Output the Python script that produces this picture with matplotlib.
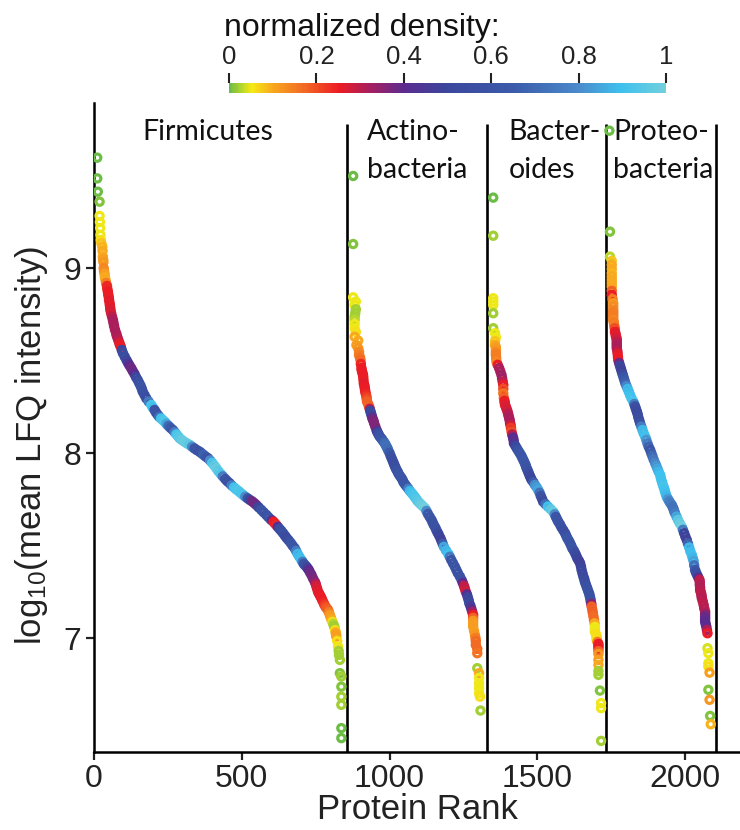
import matplotlib
matplotlib.use("Agg")
import matplotlib.pyplot as plt
from matplotlib.colors import LinearSegmentedColormap, Normalize
from matplotlib.cm import ScalarMappable

plt.rcParams["font.family"] = ["Liberation Sans", "DejaVu Sans"]
plt.rcParams["mathtext.fontset"] = "custom"
plt.rcParams["mathtext.rm"] = "Liberation Sans"
plt.rcParams["mathtext.it"] = "Liberation Sans:italic"

# Firmicutes: protein rank, log10 mean LFQ intensity, normalized density
firm_rank = [11, 11, 13, 19, 19, 20, 21, 22, 23, 25, 28, 29, 30, 31, 32, 33, 34, 36, 37, 39, 41,
             44, 45, 47, 48, 50, 51, 53, 54, 55, 56, 58, 61, 64, 66, 68, 71, 75, 77, 80, 83, 86, 88, 91, 94,
             98, 104, 110, 115, 120, 126, 131, 137, 142, 148, 153, 158, 162, 165, 171, 177, 185, 194, 199, 205,
             210, 216, 221, 227, 233, 239, 245, 252, 259, 267, 273, 279, 285, 290, 298, 307, 315, 324, 332, 340,
             348, 357, 364, 371, 378, 386, 393, 400, 407, 414, 421, 429, 436, 444, 451, 459, 466, 474, 481, 489,
             496, 504, 512, 520, 527, 535, 542, 549, 557, 566, 574, 583, 590, 598, 603, 608, 612, 617, 622, 628,
             634, 640, 646, 652, 659, 666, 672, 679, 684, 689, 695, 702, 706, 710, 714, 719, 723, 727, 731, 736,
             741, 747, 750, 752, 755, 758, 761, 764, 767, 770, 773, 777, 780, 784, 788, 792, 795, 798, 801, 804,
             807, 810, 812, 815, 816, 818, 819, 820, 823, 826, 828, 829, 832, 832, 837, 837, 837, 837, 837, 837]
firm_logi = [9.598, 9.486, 9.414, 9.360, 9.283, 9.250, 9.218, 9.180, 9.153, 9.135, 9.117, 9.094, 9.063, 9.048, 9.034, 9.000, 8.985, 8.969, 8.953, 8.937, 8.920,
             8.904, 8.889, 8.874, 8.860, 8.845, 8.828, 8.811, 8.798, 8.785, 8.771, 8.757, 8.739, 8.721, 8.705, 8.688, 8.668, 8.649, 8.636, 8.623, 8.609, 8.595, 8.585, 8.575, 8.558,
             8.541, 8.522, 8.504, 8.489, 8.475, 8.460, 8.445, 8.429, 8.412, 8.396, 8.380, 8.364, 8.348, 8.333, 8.315, 8.297, 8.279, 8.261, 8.247, 8.234,
             8.220, 8.207, 8.197, 8.188, 8.179, 8.171, 8.159, 8.148, 8.137, 8.126, 8.114, 8.102, 8.091, 8.081, 8.071, 8.061, 8.053, 8.045, 8.035, 8.026,
             8.017, 8.009, 8.000, 7.991, 7.982, 7.973, 7.961, 7.948, 7.934, 7.919, 7.903, 7.888, 7.875, 7.861, 7.849, 7.838, 7.826, 7.815, 7.805, 7.796,
             7.786, 7.775, 7.765, 7.756, 7.748, 7.740, 7.731, 7.721, 7.708, 7.694, 7.681, 7.667, 7.655, 7.642, 7.636, 7.629, 7.621, 7.612, 7.602, 7.591,
             7.580, 7.568, 7.555, 7.542, 7.529, 7.515, 7.501, 7.487, 7.472, 7.456, 7.440, 7.423, 7.413, 7.402, 7.395, 7.387, 7.378, 7.369, 7.356, 7.342,
             7.324, 7.306, 7.295, 7.283, 7.268, 7.252, 7.243, 7.234, 7.225, 7.216, 7.204, 7.191, 7.180, 7.169, 7.161, 7.153, 7.140, 7.126, 7.113, 7.099,
             7.088, 7.077, 7.066, 7.054, 7.043, 7.031, 7.020, 7.009, 6.985, 6.955, 6.931, 6.910, 6.883, 6.811, 6.793, 6.738, 6.684, 6.640, 6.514, 6.460]
firm_dens = [0.0, 0.0, 0.0, 0.01, 0.05, 0.05, 0.05, 0.05, 0.06, 0.08, 0.09, 0.10, 0.10, 0.11, 0.12, 0.14, 0.13, 0.11, 0.10, 0.10, 0.15,
             0.24, 0.24, 0.25, 0.25, 0.25, 0.26, 0.26, 0.26, 0.26, 0.27, 0.27, 0.30, 0.32, 0.32, 0.32, 0.32, 0.32, 0.32, 0.31, 0.30, 0.27, 0.26, 0.25, 0.50,
             0.55, 0.55, 0.52, 0.45, 0.40, 0.38, 0.38, 0.40, 0.50, 0.55, 0.58, 0.60, 0.60, 0.58, 0.56, 0.55, 0.75, 0.92, 0.90, 0.60,
             0.60, 0.58, 0.70, 0.90, 0.92, 0.93, 0.85, 0.70, 0.65, 0.62, 0.75, 0.92, 0.94, 0.95, 0.97, 0.98, 0.97, 0.95, 0.80, 0.62,
             0.60, 0.58, 0.62, 0.68, 0.65, 0.60, 0.80, 0.92, 0.96, 0.98, 0.95, 0.93, 0.75, 0.60, 0.58, 0.58, 0.75, 0.90, 0.92, 0.93,
             0.92, 0.92, 0.80, 0.62, 0.50, 0.38, 0.38, 0.38, 0.50, 0.60, 0.59, 0.58, 0.60, 0.62, 0.40, 0.25, 0.25, 0.24, 0.40, 0.55,
             0.56, 0.58, 0.55, 0.52, 0.56, 0.60, 0.61, 0.62, 0.75, 0.88, 0.89, 0.90, 0.75, 0.62, 0.58, 0.55, 0.48, 0.40, 0.39, 0.38,
             0.37, 0.36, 0.32, 0.28, 0.27, 0.26, 0.26, 0.26, 0.25, 0.25, 0.25, 0.24, 0.22, 0.20, 0.19, 0.18, 0.15, 0.12, 0.11, 0.10,
             0.06, 0.03, 0.02, 0.02, 0.06, 0.10, 0.11, 0.11, 0.06, 0.05, 0.02, 0.02, 0.02, 0.01, 0.02, 0.01, 0.02, 0.02, 0.0, 0.0]

# Actinobacteria
acti_rank = [877, 877, 877, 886, 882, 886, 884, 882, 882, 882, 882, 886, 882, 894, 888, 894, 897, 897, 900, 902,
             903, 905, 906, 908, 910, 911, 912, 913, 915, 916, 917, 918, 920, 922, 923, 924, 928, 931, 933, 935,
             937, 939, 941, 943, 946, 948, 952, 956, 958, 961, 964, 967, 972, 976, 980, 984, 987, 990, 993, 995,
             1000, 1004, 1008, 1012, 1015, 1018, 1021, 1024, 1028, 1031, 1036, 1041, 1045, 1048, 1053, 1058, 1064, 1069, 1075, 1080,
             1085, 1089, 1093, 1097, 1103, 1108, 1114, 1120, 1125, 1130, 1136, 1142, 1146, 1150, 1155, 1159, 1163, 1167, 1172, 1176,
             1180, 1184, 1191, 1199, 1204, 1209, 1215, 1221, 1226, 1231, 1238, 1244, 1248, 1252, 1255, 1258, 1262, 1265, 1268, 1270,
             1274, 1277, 1280, 1283, 1283, 1283, 1283, 1283, 1286, 1289, 1291, 1292, 1292, 1297, 1297, 1297, 1303, 1303, 1303, 1303,
             1303, 1306, 1308]
acti_logi = [9.499, 9.131, 8.843, 8.820, 8.802, 8.778, 8.758, 8.738, 8.721, 8.699, 8.676, 8.656, 8.630, 8.609, 8.585, 8.568, 8.548, 8.531, 8.518, 8.504,
             8.483, 8.460, 8.448, 8.437, 8.425, 8.414, 8.396, 8.378, 8.367, 8.356, 8.344, 8.333, 8.320, 8.306, 8.292, 8.279, 8.265, 8.252, 8.240, 8.229,
             8.218, 8.207, 8.196, 8.185, 8.174, 8.162, 8.144, 8.126, 8.117, 8.108, 8.099, 8.090, 8.081, 8.072, 8.063, 8.054, 8.045, 8.036, 8.027, 8.018,
             8.002, 7.985, 7.970, 7.955, 7.943, 7.931, 7.920, 7.910, 7.899, 7.888, 7.876, 7.865, 7.853, 7.842, 7.831, 7.820, 7.808, 7.796, 7.785, 7.775,
             7.765, 7.756, 7.747, 7.738, 7.729, 7.721, 7.712, 7.703, 7.688, 7.672, 7.656, 7.640, 7.626, 7.612, 7.598, 7.583, 7.571, 7.558, 7.542, 7.526,
             7.510, 7.494, 7.475, 7.456, 7.440, 7.423, 7.405, 7.387, 7.370, 7.353, 7.334, 7.315, 7.299, 7.283, 7.268, 7.252, 7.237, 7.221, 7.205, 7.189,
             7.174, 7.158, 7.142, 7.126, 7.110, 7.094, 7.078, 7.063, 7.040, 7.018, 7.001, 6.985, 6.964, 6.942, 6.919, 6.838, 6.811, 6.785, 6.757, 6.731,
             6.703, 6.684, 6.609]
acti_dens = [0.0, 0.01, 0.05, 0.05, 0.05, 0.02, 0.02, 0.02, 0.03, 0.05, 0.05, 0.06, 0.10, 0.10, 0.11, 0.12, 0.14, 0.15, 0.16, 0.17,
             0.24, 0.25, 0.25, 0.25, 0.25, 0.25, 0.25, 0.26, 0.26, 0.25, 0.25, 0.25, 0.24, 0.22, 0.20, 0.18, 0.18, 0.18, 0.30, 0.50,
             0.52, 0.52, 0.45, 0.38, 0.37, 0.36, 0.36, 0.37, 0.45, 0.55, 0.58, 0.60, 0.62, 0.62, 0.66, 0.70, 0.71, 0.72, 0.71, 0.70,
             0.64, 0.58, 0.56, 0.55, 0.55, 0.55, 0.56, 0.58, 0.59, 0.60, 0.61, 0.62, 0.61, 0.60, 0.61, 0.62, 0.75, 0.88, 0.90, 0.92,
             0.92, 0.93, 0.94, 0.95, 0.96, 0.98, 0.99, 1.0, 0.80, 0.65, 0.62, 0.60, 0.59, 0.58, 0.58, 0.58, 0.54, 0.50, 0.49, 0.48,
             0.65, 0.85, 0.88, 0.90, 0.75, 0.62, 0.61, 0.60, 0.59, 0.58, 0.58, 0.58, 0.40, 0.30, 0.29, 0.28, 0.40, 0.50, 0.51, 0.52,
             0.47, 0.42, 0.33, 0.25, 0.18, 0.12, 0.11, 0.11, 0.11, 0.12, 0.15, 0.17, 0.17, 0.17, 0.16, 0.02, 0.10, 0.05, 0.05, 0.05,
             0.05, 0.06, 0.02]

# Bacteroides
bact_rank = [1351, 1351, 1351, 1351, 1351, 1351, 1351, 1357, 1360, 1357, 1357, 1360, 1360, 1360, 1360, 1361, 1362, 1366, 1371, 1375,
             1379, 1381, 1383, 1385, 1385, 1385, 1387, 1389, 1390, 1391, 1394, 1396, 1399, 1401, 1403, 1405, 1407, 1408, 1410, 1411,
             1413, 1415, 1418, 1420, 1421, 1426, 1431, 1436, 1441, 1446, 1450, 1454, 1458, 1461, 1463, 1466, 1469, 1472, 1475, 1478,
             1481, 1487, 1492, 1498, 1503, 1508, 1512, 1516, 1520, 1528, 1536, 1545, 1554, 1559, 1563, 1567, 1571, 1577, 1582, 1588,
             1594, 1598, 1602, 1607, 1611, 1615, 1619, 1624, 1628, 1632, 1636, 1641, 1645, 1648, 1650, 1653, 1656, 1659, 1661, 1664,
             1667, 1670, 1673, 1676, 1678, 1680, 1681, 1683, 1684, 1686, 1688, 1690, 1692, 1694, 1695, 1695, 1695, 1698, 1701, 1701,
             1701, 1704, 1707, 1707, 1707, 1707, 1707, 1707, 1707, 1707, 1707, 1712, 1716, 1716, 1716]
bact_logi = [9.382, 9.176, 8.838, 8.820, 8.802, 8.757, 8.676, 8.649, 8.627, 8.606, 8.585, 8.572, 8.558, 8.545, 8.531, 8.513, 8.495, 8.478, 8.460, 8.442,
             8.423, 8.405, 8.387, 8.369, 8.348, 8.324, 8.299, 8.283, 8.272, 8.261, 8.250, 8.240, 8.228, 8.215, 8.202, 8.189, 8.176, 8.162, 8.150, 8.137,
             8.117, 8.101, 8.085, 8.070, 8.054, 8.040, 8.026, 8.013, 8.000, 7.987, 7.973, 7.960, 7.946, 7.935, 7.923, 7.912, 7.901, 7.889, 7.877, 7.867,
             7.856, 7.843, 7.829, 7.816, 7.802, 7.786, 7.769, 7.754, 7.738, 7.725, 7.712, 7.698, 7.684, 7.670, 7.656, 7.643, 7.630, 7.615, 7.599, 7.584,
             7.568, 7.554, 7.540, 7.527, 7.514, 7.500, 7.485, 7.473, 7.460, 7.446, 7.431, 7.418, 7.405, 7.387, 7.369, 7.351, 7.333, 7.320, 7.306, 7.293,
             7.279, 7.266, 7.252, 7.239, 7.225, 7.212, 7.199, 7.185, 7.171, 7.154, 7.137, 7.118, 7.099, 7.080, 7.061, 7.049, 7.036, 7.024, 7.012, 7.001,
             6.991, 6.980, 6.969, 6.958, 6.946, 6.930, 6.915, 6.883, 6.856, 6.823, 6.802, 6.717, 6.649, 6.622, 6.445]
bact_dens = [0.0, 0.02, 0.05, 0.05, 0.05, 0.02, 0.02, 0.05, 0.05, 0.08, 0.10, 0.11, 0.12, 0.14, 0.15, 0.15, 0.14, 0.25, 0.32, 0.32,
             0.33, 0.33, 0.30, 0.25, 0.20, 0.16, 0.18, 0.25, 0.25, 0.26, 0.27, 0.27, 0.28, 0.30, 0.31, 0.32, 0.32, 0.32, 0.28, 0.22,
             0.20, 0.30, 0.40, 0.41, 0.42, 0.50, 0.55, 0.60, 0.62, 0.62, 0.62, 0.62, 0.62, 0.61, 0.60, 0.59, 0.58, 0.55, 0.52, 0.51,
             0.50, 0.65, 0.80, 0.83, 0.85, 0.72, 0.60, 0.56, 0.52, 0.70, 0.90, 0.95, 0.98, 0.80, 0.62, 0.61, 0.60, 0.59, 0.58, 0.56,
             0.55, 0.58, 0.62, 0.61, 0.60, 0.61, 0.62, 0.58, 0.55, 0.52, 0.50, 0.49, 0.48, 0.49, 0.50, 0.51, 0.52, 0.53, 0.55, 0.56,
             0.58, 0.58, 0.58, 0.58, 0.58, 0.58, 0.58, 0.35, 0.18, 0.18, 0.18, 0.17, 0.17, 0.10, 0.05, 0.05, 0.05, 0.06, 0.06, 0.06,
             0.06, 0.15, 0.25, 0.25, 0.25, 0.18, 0.12, 0.11, 0.10, 0.02, 0.02, 0.01, 0.05, 0.05, 0.02]

# Proteobacteria
prot_rank = [1744, 1746, 1746, 1752, 1752, 1752, 1752, 1752, 1752, 1752, 1752, 1752, 1752, 1755, 1757, 1757, 1757, 1757, 1757, 1757,
             1757, 1759, 1760, 1762, 1763, 1765, 1766, 1768, 1769, 1769, 1769, 1769, 1769, 1771, 1772, 1773, 1774, 1777, 1780, 1783,
             1786, 1789, 1792, 1795, 1798, 1802, 1806, 1810, 1814, 1819, 1825, 1828, 1831, 1834, 1837, 1840, 1842, 1845, 1848, 1852,
             1856, 1860, 1865, 1869, 1873, 1877, 1882, 1886, 1890, 1894, 1899, 1903, 1907, 1911, 1916, 1918, 1921, 1924, 1927, 1930,
             1932, 1935, 1938, 1942, 1946, 1950, 1955, 1958, 1961, 1963, 1966, 1971, 1976, 1982, 1989, 1993, 1997, 2001, 2006, 2010,
             2014, 2018, 2023, 2026, 2029, 2031, 2034, 2037, 2041, 2045, 2049, 2050, 2050, 2051, 2051, 2053, 2055, 2056, 2057, 2060,
             2063, 2065, 2068, 2068, 2068, 2068, 2068, 2070, 2072, 2074, 2076, 2076, 2079, 2079, 2079, 2083, 2079, 2083, 2085, 2087]
prot_logi = [9.744, 9.198, 9.063, 9.040, 9.018, 8.996, 8.973, 8.955, 8.937, 8.919, 8.901, 8.878, 8.856, 8.833, 8.811, 8.794, 8.775, 8.762, 8.748, 8.735,
             8.721, 8.708, 8.694, 8.676, 8.657, 8.645, 8.634, 8.624, 8.613, 8.602, 8.591, 8.580, 8.568, 8.552, 8.537, 8.520, 8.504, 8.488, 8.472, 8.457,
             8.441, 8.426, 8.410, 8.394, 8.378, 8.363, 8.348, 8.332, 8.315, 8.297, 8.279, 8.266, 8.253, 8.239, 8.225, 8.210, 8.194, 8.178, 8.162, 8.144,
             8.126, 8.108, 8.090, 8.072, 8.053, 8.035, 8.018, 8.000, 7.983, 7.965, 7.946, 7.931, 7.915, 7.899, 7.883, 7.867, 7.850, 7.835, 7.820, 7.807,
             7.794, 7.779, 7.765, 7.753, 7.742, 7.731, 7.721, 7.710, 7.699, 7.688, 7.676, 7.658, 7.640, 7.622, 7.603, 7.586, 7.568, 7.550, 7.531, 7.511,
             7.491, 7.470, 7.450, 7.434, 7.418, 7.394, 7.369, 7.355, 7.342, 7.328, 7.315, 7.302, 7.288, 7.274, 7.261, 7.250, 7.239, 7.227, 7.216, 7.199,
             7.180, 7.161, 7.144, 7.131, 7.118, 7.104, 7.090, 7.076, 7.063, 7.045, 7.027, 6.946, 6.919, 6.865, 6.847, 6.814, 6.721, 6.667, 6.580, 6.535]
prot_dens = [0.0, 0.01, 0.03, 0.08, 0.10, 0.10, 0.09, 0.10, 0.10, 0.10, 0.10, 0.18, 0.25, 0.15, 0.12, 0.13, 0.14, 0.15, 0.15, 0.15,
             0.14, 0.15, 0.15, 0.20, 0.25, 0.26, 0.26, 0.27, 0.28, 0.30, 0.31, 0.32, 0.32, 0.30, 0.26, 0.25, 0.25, 0.38, 0.50, 0.49,
             0.48, 0.55, 0.62, 0.65, 0.68, 0.78, 0.88, 0.89, 0.90, 0.91, 0.92, 0.75, 0.58, 0.55, 0.52, 0.53, 0.55, 0.56, 0.58, 0.75,
             0.88, 0.89, 0.90, 0.82, 0.75, 0.68, 0.62, 0.66, 0.70, 0.74, 0.78, 0.82, 0.85, 0.88, 0.90, 0.90, 0.90, 0.91, 0.92, 0.91,
             0.90, 0.89, 0.88, 0.83, 0.78, 0.76, 0.75, 0.73, 0.72, 0.73, 0.75, 0.85, 0.95, 0.98, 1.0, 0.75, 0.50, 0.49, 0.48, 0.68,
             0.88, 0.89, 0.90, 0.88, 0.85, 0.72, 0.62, 0.58, 0.55, 0.42, 0.30, 0.30, 0.31, 0.31, 0.31, 0.30, 0.30, 0.30, 0.31, 0.30,
             0.30, 0.31, 0.30, 0.34, 0.38, 0.39, 0.40, 0.40, 0.40, 0.32, 0.25, 0.04, 0.05, 0.05, 0.06, 0.11, 0.01, 0.12, 0.01, 0.09]

phylum_lines = [["Firmicutes"], ["Actino-", "bacteria"], ["Bacter-", "oides"], ["Proteo-", "bacteria"]]
divider_ranks = [857, 1329, 1731, 2104]

# density colour scale: green -> yellow -> orange -> red -> purple -> blue -> cyan
density_stops = [0.0, 0.05, 0.10, 0.17, 0.25, 0.32, 0.40, 0.50, 0.65, 0.80, 0.90, 1.0]
density_colors = ["#6cbd45", "#f6eb16", "#f8a61f", "#f26a24", "#ec1c24", "#a81e5e",
                  "#5b2c8f", "#3b479c", "#3b5aa9", "#4a8acb", "#3ec1ee", "#72cfdc"]
cmap = LinearSegmentedColormap.from_list("density", list(zip(density_stops, density_colors)))
norm = Normalize(0, 1)

fig = plt.figure(figsize=(7.4, 8.3), dpi=100)
ax = fig.add_axes([0.127, 0.094, 0.873, 0.782])

groups = [(firm_rank, firm_logi, firm_dens), (acti_rank, acti_logi, acti_dens),
          (bact_rank, bact_logi, bact_dens), (prot_rank, prot_logi, prot_dens)]
for rank, logi, dens in groups:
    ax.scatter(rank, logi, s=27, facecolors="none", edgecolors=cmap(norm(dens)),
               linewidths=2.3, zorder=3)

ax.set_xlim(0, 2186)
ax.set_ylim(6.385, 9.894)
ax.vlines(divider_ranks, 6.385, 9.78, color="black", lw=1.9, zorder=2)

# phylum names above each block
label_x = [164, 923, 1402, 1757]
for x, lines in zip(label_x, phylum_lines):
    for i, line in enumerate(lines):
        ax.text(x, 9.694 - 0.208 * i, line, fontsize=20.5, family="Lato",
                ha="left", va="baseline", color="#111111")

for side in ["top", "right"]:
    ax.spines[side].set_visible(False)
for side in ["left", "bottom"]:
    ax.spines[side].set_linewidth(1.8)
ax.set_xticks([0, 500, 1000, 1500, 2000])
ax.set_yticks([7, 8, 9])
ax.tick_params(direction="out", length=6, width=1.6, labelsize=23, pad=3, colors="#222222")
ax.set_xlabel("Protein Rank", fontsize=25, labelpad=-1, color="#222222")
ax.set_ylabel(r"log$_{10}$(mean LFQ intensity)", fontsize=25, color="#222222")
ax.yaxis.set_label_coords(-0.068, 0.473)

# colour bar across the top
cax = fig.add_axes([0.3095, 0.888, 0.5905, 0.012])
cb = fig.colorbar(ScalarMappable(norm=norm, cmap=cmap), cax=cax, orientation="horizontal")
cb.outline.set_visible(False)
cax.xaxis.set_ticks_position("top")
cb.set_ticks([0, 0.2, 0.4, 0.6, 0.8, 1.0])
cb.set_ticklabels(["0", "0.2", "0.4", "0.6", "0.8", "1"])
cax.tick_params(direction="out", length=7, width=1.5, labelsize=18.5, pad=3, colors="#222222")
fig.text(224 / 740, 1 - 36 / 830, "normalized density:", fontsize=23, ha="left",
         va="baseline", color="#111111")

fig.savefig("out.png", dpi=100)
